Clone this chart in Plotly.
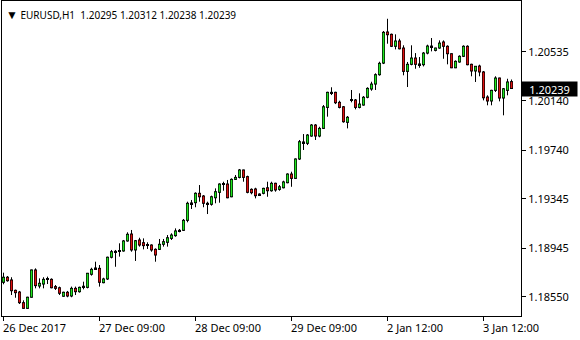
import plotly.graph_objects as go

symbol_title = "EURUSD,H1"
last_ohlc = ["1.20295", "1.20312", "1.20238", "1.20239"]

opens = [1.18669,1.18710,1.18688,1.18604,1.18590,1.18504,1.18458,1.18548,1.18769,1.18639,
         1.18655,1.18696,1.18693,1.18634,1.18625,1.18556,1.18588,1.18558,1.18620,1.18593,
         1.18631,1.18628,1.18734,1.18779,1.18782,1.18666,1.18696,1.18872,1.18917,1.18920,
         1.18923,1.19004,1.19060,1.18931,1.19012,1.18990,1.18974,1.18971,1.18936,1.18936,
         1.18977,1.18993,1.19025,1.19047,1.19085,1.19090,1.19171,1.19306,1.19314,1.19390,
         1.19368,1.19309,1.19301,1.19354,1.19398,1.19463,1.19465,1.19362,1.19503,1.19519,
         1.19579,1.19525,1.19422,1.19425,1.19379,1.19390,1.19435,1.19411,1.19471,1.19422,
         1.19435,1.19476,1.19546,1.19511,1.19668,1.19800,1.19795,1.19854,1.19943,1.19854,
         1.19916,1.20086,1.20208,1.20208,1.20127,1.20091,1.19965,1.20148,1.20146,1.20086,
         1.20105,1.20168,1.20235,1.20275,1.20351,1.20445,1.20697,1.20678,1.20581,1.20624,
         1.20567,1.20378,1.20435,1.20486,1.20438,1.20432,1.20526,1.20578,1.20548,1.20567,
         1.20616,1.20581,1.20521,1.20407,1.20454,1.20500,1.20581,1.20435,1.20381,1.20421,
         1.20373,1.20170,1.20138,1.20224,1.20324,1.20162,1.20224,1.20295]
highs = [1.18747,1.18720,1.18710,1.18610,1.18599,1.18523,1.18552,1.18772,1.18782,1.18701,
         1.18710,1.18715,1.18701,1.18647,1.18634,1.18593,1.18599,1.18634,1.18634,1.18634,
         1.18674,1.18745,1.18787,1.18836,1.18809,1.18706,1.18877,1.18931,1.18931,1.18985,
         1.19012,1.19074,1.19093,1.19012,1.19030,1.19025,1.18993,1.18977,1.18944,1.19020,
         1.19020,1.19052,1.19066,1.19106,1.19101,1.19182,1.19322,1.19336,1.19398,1.19457,
         1.19376,1.19322,1.19371,1.19430,1.19471,1.19484,1.19498,1.19511,1.19538,1.19587,
         1.19582,1.19533,1.19430,1.19435,1.19390,1.19435,1.19484,1.19484,1.19476,1.19457,
         1.19492,1.19552,1.19565,1.19673,1.19822,1.19870,1.19870,1.19951,1.19951,1.19929,
         1.20105,1.20213,1.20249,1.20213,1.20140,1.20097,1.20016,1.20227,1.20154,1.20200,
         1.20178,1.20249,1.20294,1.20362,1.20456,1.20705,1.20804,1.20684,1.20678,1.20642,
         1.20589,1.20454,1.20589,1.20526,1.20494,1.20535,1.20594,1.20648,1.20570,1.20629,
         1.20629,1.20589,1.20524,1.20467,1.20508,1.20589,1.20589,1.20440,1.20421,1.20432,
         1.20381,1.20184,1.20229,1.20338,1.20327,1.20243,1.20318,1.20312]
lows = [1.18653,1.18674,1.18566,1.18544,1.18493,1.18455,1.18455,1.18545,1.18620,1.18620,
        1.18620,1.18655,1.18620,1.18607,1.18566,1.18552,1.18548,1.18548,1.18566,1.18585,
        1.18612,1.18620,1.18723,1.18769,1.18634,1.18661,1.18688,1.18863,1.18795,1.18877,
        1.18917,1.18998,1.18917,1.18842,1.18958,1.18936,1.18939,1.18917,1.18836,1.18931,
        1.18958,1.18958,1.19012,1.19038,1.19074,1.19085,1.19155,1.19263,1.19277,1.19322,
        1.19277,1.19222,1.19290,1.19309,1.19314,1.19411,1.19350,1.19358,1.19498,1.19511,
        1.19484,1.19390,1.19382,1.19349,1.19368,1.19382,1.19362,1.19403,1.19403,1.19411,
        1.19430,1.19471,1.19443,1.19508,1.19660,1.19741,1.19781,1.19848,1.19822,1.19844,
        1.19911,1.20011,1.20186,1.20113,1.20078,1.19962,1.19916,1.20127,1.20070,1.20078,
        1.20100,1.20160,1.20221,1.20227,1.20343,1.20437,1.20602,1.20575,1.20556,1.20556,
        1.20346,1.20251,1.20427,1.20399,1.20407,1.20418,1.20516,1.20540,1.20540,1.20561,
        1.20480,1.20435,1.20404,1.20404,1.20448,1.20494,1.20427,1.20338,1.20292,1.20338,
        1.20143,1.20103,1.20103,1.20211,1.20135,1.20022,1.20184,1.20238]
closes = [1.18710,1.18682,1.18601,1.18585,1.18504,1.18458,1.18548,1.18769,1.18642,1.18661,
          1.18693,1.18693,1.18625,1.18620,1.18580,1.18588,1.18558,1.18620,1.18593,1.18628,
          1.18637,1.18742,1.18774,1.18785,1.18669,1.18696,1.18872,1.18917,1.18920,1.18925,
          1.19004,1.19058,1.18931,1.19006,1.18971,1.18966,1.18969,1.18931,1.18890,1.18977,
          1.18998,1.19030,1.19052,1.19085,1.19090,1.19171,1.19309,1.19312,1.19390,1.19362,
          1.19309,1.19304,1.19362,1.19403,1.19465,1.19465,1.19354,1.19503,1.19519,1.19579,
          1.19519,1.19398,1.19395,1.19371,1.19384,1.19430,1.19411,1.19471,1.19417,1.19443,
          1.19482,1.19546,1.19511,1.19668,1.19808,1.19806,1.19862,1.19943,1.19854,1.19916,
          1.20091,1.20208,1.20203,1.20124,1.20086,1.19970,1.20006,1.20143,1.20086,1.20113,
          1.20168,1.20240,1.20275,1.20351,1.20443,1.20694,1.20675,1.20581,1.20624,1.20561,
          1.20378,1.20435,1.20486,1.20435,1.20432,1.20526,1.20583,1.20583,1.20567,1.20607,
          1.20581,1.20521,1.20407,1.20459,1.20500,1.20581,1.20432,1.20381,1.20419,1.20373,
          1.20164,1.20138,1.20224,1.20324,1.20162,1.20237,1.20292,1.20239]

bar_index = list(range(len(opens)))

time_tick_index = [0, 24, 48, 72, 96, 120]
time_tick_labels = ["26 Dec 2017", "27 Dec 09:00", "28 Dec 09:00",
                    "29 Dec 09:00", "2 Jan 12:00", "3 Jan 12:00"]
price_ticks = [1.18550, 1.18945, 1.19345, 1.19740, 1.20140, 1.20535]
price_tick_labels = ["%.5f" % v for v in price_ticks]
current_price = 1.20239

FONT = "Noto Sans"
BULL = "#1ee81e"
BEAR = "#e01010"

Y_RANGE = [1.18396, 1.20948]
PLOT_H = 340 - 1 - 24
PX = (Y_RANGE[1] - Y_RANGE[0]) / PLOT_H   # price per screen pixel (outline thickness)

body_lo = [min(o, c) for o, c in zip(opens, closes)]
body_hi = [max(o, c) for o, c in zip(opens, closes)]
body_len = [h - l for h, l in zip(body_hi, body_lo)]

outline_base = [lo - PX / 2 for lo in body_lo]
outline_len = [ln + PX for ln in body_len]

wick_x, wick_y = [], []
for i in bar_index:
    wick_x += [i, i, None]
    wick_y += [lows[i], highs[i], None]

bull_x, bull_y, bear_x, bear_y = [], [], [], []
for i in bar_index:
    if body_len[i] > PX:
        seg_y = [body_lo[i] + PX / 2, body_hi[i] - PX / 2, None]
        if closes[i] >= opens[i]:
            bull_x += [i, i, None]
            bull_y += seg_y
        else:
            bear_x += [i, i, None]
            bear_y += seg_y

fig = go.Figure()
fig.add_trace(go.Bar(
    x=bar_index, y=outline_len, base=outline_base, width=0.75,
    marker=dict(color="black", line=dict(width=0)),
    hoverinfo="skip", showlegend=False,
))
fig.add_trace(go.Scatter(
    x=wick_x, y=wick_y, mode="lines", line=dict(color="black", width=1),
    hoverinfo="skip", showlegend=False,
))
fig.add_trace(go.Scatter(
    x=bull_x, y=bull_y, mode="lines", line=dict(color=BULL, width=1.6),
    hoverinfo="skip", showlegend=False,
))
fig.add_trace(go.Scatter(
    x=bear_x, y=bear_y, mode="lines", line=dict(color=BEAR, width=1.6),
    hoverinfo="skip", showlegend=False,
))

annotations = []
for idx, lab in zip(time_tick_index, time_tick_labels):
    annotations.append(dict(
        x=idx, xref="x", y=0, yref="paper", yanchor="top", xanchor="left",
        text=lab, showarrow=False, yshift=-3, xshift=-2,
        font=dict(family=FONT, size=11, color="black"), borderpad=0,
    ))

annotations.append(dict(
    x=0, xref="paper", y=1, yref="paper", xanchor="left", yanchor="top",
    xshift=2, yshift=-3, showarrow=False,
    text="<span style='font-size:12px'>\u25bc</span> " + symbol_title + "\u00a0\u00a0"
         + "\u00a0".join(last_ohlc),
    font=dict(family=FONT, size=10, color="black"),
))

annotations.append(dict(
    x=1, xref="paper", y=current_price, yref="y", xanchor="left", yanchor="middle",
    showarrow=False, text="%.5f" % current_price, bgcolor="black",
    font=dict(family=FONT, size=11, color="white"),
    width=53, height=12, borderpad=1, align="center", xshift=0,
))

fig.update_layout(
    width=580, height=340,
    margin=dict(l=2, r=59, t=1, b=24),
    paper_bgcolor="white", plot_bgcolor="white",
    showlegend=False, barmode="overlay",
    annotations=annotations,
    xaxis=dict(
        range=[-0.375, 129.375],
        showgrid=False, zeroline=False,
        showline=True, mirror=True, linecolor="black", linewidth=1,
        tickmode="array", tickvals=time_tick_index, ticktext=time_tick_labels,
        showticklabels=False, ticks="outside", ticklen=4, tickcolor="black",
    ),
    yaxis=dict(
        range=Y_RANGE, side="right",
        showgrid=False, zeroline=False,
        showline=True, mirror=True, linecolor="black", linewidth=1,
        tickmode="array", tickvals=price_ticks, ticktext=price_tick_labels,
        ticks="outside", ticklen=4, tickcolor="black",
        tickfont=dict(family=FONT, size=11, color="black"),
    ),
)

fig.write_html("out.html")
